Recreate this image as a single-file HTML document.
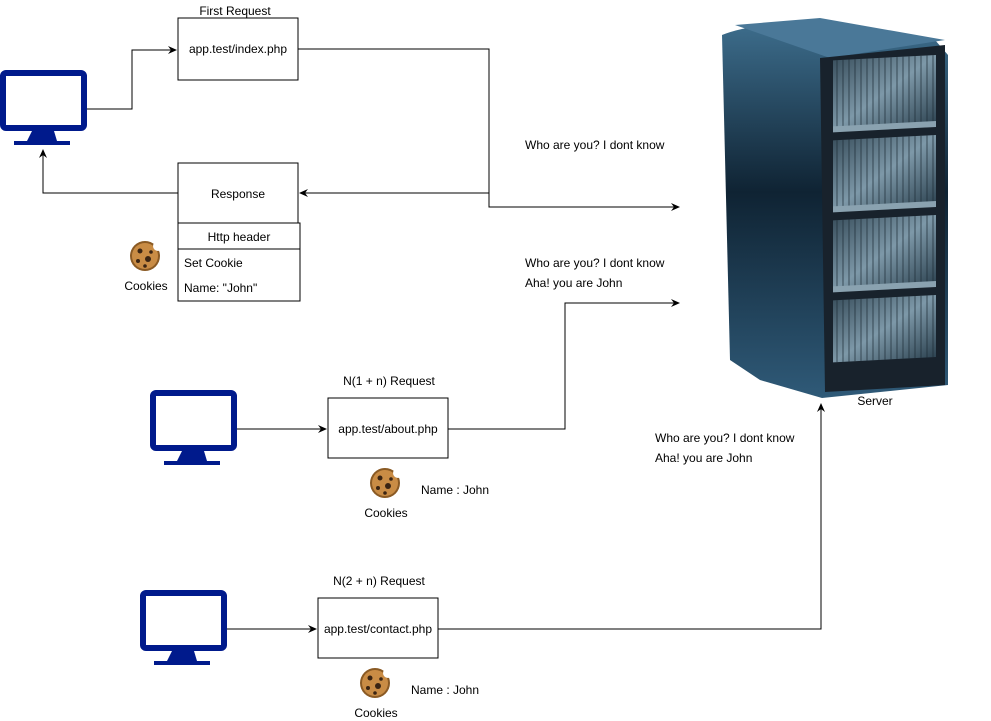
<!DOCTYPE html>
<html><head><style>body{margin:0;background:#fff}svg{display:block}text{font-family:"Liberation Sans",sans-serif;font-size:12px;fill:#000}</style></head><body>
<svg width="991" height="721" viewBox="0 0 991 721">
<defs>
<marker id="a" markerWidth="10" markerHeight="10" refX="8" refY="5" orient="auto" markerUnits="userSpaceOnUse"><path d="M0,1 L9,5 L0,9 L3,5 Z" fill="#000"/></marker>
<linearGradient id="side2" x1="0" y1="0" x2="0" y2="1"><stop offset="0" stop-color="#3d6d8c"/><stop offset="0.45" stop-color="#0f2333"/><stop offset="1" stop-color="#2f5a78"/></linearGradient>
<linearGradient id="bay" x1="0" y1="0" x2="1" y2="1"><stop offset="0" stop-color="#3c5260"/><stop offset="0.5" stop-color="#7d98a8"/><stop offset="1" stop-color="#2e4452"/></linearGradient>
<pattern id="vl" width="6" height="20" patternUnits="userSpaceOnUse"><line x1="3" y1="0" x2="3" y2="20" stroke="#1c2a34" stroke-width="1.2" opacity="0.6"/></pattern>
<g id="mon"><rect x="3" y="3" width="81" height="55" rx="3" fill="#fff" stroke="#001a8c" stroke-width="6"/><path d="M32,61 h22 l3,10 h13 v4 h-56 v-4 h13 z" fill="#001a8c"/></g>
<g id="ck"><circle cx="0" cy="0" r="15" fill="#8a5a24"/><circle cx="0" cy="0" r="13" fill="#c98c45"/><circle cx="13" cy="-10" r="5" fill="#fff"/><circle cx="-5" cy="-5" r="2.5" fill="#3a2413"/><circle cx="3" cy="3" r="3" fill="#3a2413"/><circle cx="-7" cy="5" r="2" fill="#3a2413"/><circle cx="6" cy="-4" r="1.8" fill="#3a2413"/><circle cx="0" cy="10" r="1.8" fill="#3a2413"/></g>
</defs>
<use href="#mon" x="0" y="70"/>
<use href="#mon" x="150" y="390"/>
<use href="#mon" x="140" y="590"/>
<g fill="none" stroke="#000" stroke-width="1">
<rect x="178" y="18" width="120" height="62"/>
<rect x="178" y="163" width="120" height="60"/>
<rect x="178" y="223" width="122" height="78"/>
<line x1="178" y1="249" x2="300" y2="249"/>
<rect x="328" y="398" width="120" height="60"/>
<rect x="318" y="598" width="120" height="60"/>
<polyline points="87,109 132,109 132,50 176,50" marker-end="url(#a)"/>
<polyline points="298,49 489,49 489,207 679,207" marker-end="url(#a)"/>
<polyline points="489,193 300,193" marker-end="url(#a)"/>
<polyline points="178,193 43,193 43,150" marker-end="url(#a)"/>
<polyline points="237,429 326,429" marker-end="url(#a)"/>
<polyline points="448,429 565,429 565,303 679,303" marker-end="url(#a)"/>
<polyline points="227,629 316,629" marker-end="url(#a)"/>
<polyline points="438,629 821,629 821,404" marker-end="url(#a)"/>
</g>
<!-- server -->
<path d="M722,35 Q760,20 830,25 L935,40 L948,55 L948,385 L822,398 L760,380 L730,360 Z" fill="url(#side2)"/>
<path d="M735,25 L820,18 L945,40 L830,58 Z" fill="#4a7898"/>
<path d="M820,58 L945,45 L945,385 L825,392 Z" fill="#18222c"/>
<g transform="skewY(-3) translate(0,44)">
<rect x="833" y="60" width="103" height="70" fill="url(#bay)"/><rect x="833" y="60" width="103" height="70" fill="url(#vl)"/>
<rect x="833" y="140" width="103" height="70" fill="url(#bay)"/><rect x="833" y="140" width="103" height="70" fill="url(#vl)"/>
<rect x="833" y="220" width="103" height="70" fill="url(#bay)"/><rect x="833" y="220" width="103" height="70" fill="url(#vl)"/>
<rect x="833" y="300" width="103" height="62" fill="url(#bay)"/><rect x="833" y="300" width="103" height="62" fill="url(#vl)"/>
<rect x="833" y="126" width="103" height="6" fill="#8aa2b0"/>
<rect x="833" y="206" width="103" height="6" fill="#8aa2b0"/>
<rect x="833" y="286" width="103" height="6" fill="#8aa2b0"/>
</g>
<use href="#ck" x="145" y="256"/>
<use href="#ck" x="385" y="483"/>
<use href="#ck" x="375" y="683"/>
<text x="235" y="15" text-anchor="middle">First Request</text>
<text x="238" y="53" text-anchor="middle">app.test/index.php</text>
<text x="238" y="198" text-anchor="middle">Response</text>
<text x="239" y="241" text-anchor="middle">Http header</text>
<text x="184" y="267">Set Cookie</text>
<text x="184" y="292">Name: "John"</text>
<text x="146" y="290" text-anchor="middle">Cookies</text>
<text x="525" y="149">Who are you? I dont know</text>
<text x="525" y="267">Who are you? I dont know</text>
<text x="525" y="287">Aha! you are John</text>
<text x="389" y="385" text-anchor="middle">N(1 + n)  Request</text>
<text x="388" y="433" text-anchor="middle">app.test/about.php</text>
<text x="386" y="517" text-anchor="middle">Cookies</text>
<text x="421" y="494">Name : John</text>
<text x="655" y="442">Who are you? I dont know</text>
<text x="655" y="462">Aha! you are John</text>
<text x="379" y="585" text-anchor="middle">N(2 + n)  Request</text>
<text x="378" y="633" text-anchor="middle">app.test/contact.php</text>
<text x="376" y="717" text-anchor="middle">Cookies</text>
<text x="411" y="694">Name : John</text>
<text x="875" y="405" text-anchor="middle">Server</text>
</svg>
</body></html>
